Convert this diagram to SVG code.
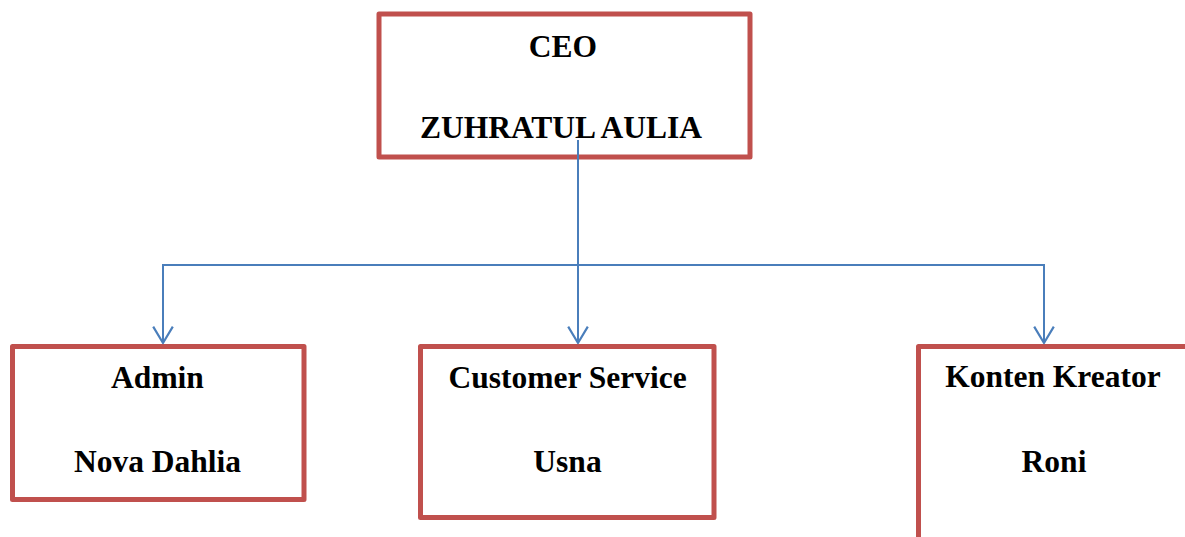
<svg xmlns="http://www.w3.org/2000/svg" width="1185" height="537" viewBox="0 0 1185 537">
  <style>
    .box { fill: #ffffff; stroke: #C0504D; stroke-width: 5; stroke-linejoin: round; }
    .lbl { font-family: "Liberation Serif", "Times New Roman", serif; font-weight: bold; font-size: 31.5px; fill: #000000; text-anchor: middle; }
    .conn { fill: none; stroke: #4A7EBB; stroke-width: 2; }
  </style>
  <defs>
    <marker id="vee" markerUnits="userSpaceOnUse" markerWidth="20" markerHeight="24" viewBox="-16 -11 18 22" refX="0" refY="0" orient="auto">
      <path d="M -15 -9 L 0 0 L -15 9" fill="none" stroke="#4A7EBB" stroke-width="2" stroke-linejoin="round"/>
    </marker>
  </defs>

  <rect width="1185" height="537" fill="#ffffff"/>

  <!-- organisation boxes -->
  <g id="ceo">
    <rect class="box" x="379" y="14" width="371" height="143"/>
    <text class="lbl" x="563" y="57">CEO</text>
    <text class="lbl" x="561" y="138">ZUHRATUL AULIA</text>
  </g>

  <g id="admin">
    <rect class="box" x="12.5" y="346.5" width="291.5" height="153"/>
    <text class="lbl" x="157.5" y="388">Admin</text>
    <text class="lbl" x="157.5" y="472">Nova Dahlia</text>
  </g>

  <g id="customer-service">
    <rect class="box" x="420.5" y="346.5" width="293.5" height="171"/>
    <text class="lbl" x="567.5" y="388">Customer Service</text>
    <text class="lbl" x="567.5" y="472">Usna</text>
  </g>

  <g id="konten-kreator">
    <rect class="box" x="918.5" y="346.5" width="300" height="260"/>
    <text class="lbl" x="1053" y="387">Konten Kreator</text>
    <text class="lbl" x="1054" y="472">Roni</text>
  </g>

  <!-- reporting lines -->
  <g id="connectors">
    <path class="conn" d="M 578 140 L 578 343" marker-end="url(#vee)"/>
    <path class="conn" d="M 578 265 L 163 265 L 163 343" marker-end="url(#vee)"/>
    <path class="conn" d="M 578 265 L 1044 265 L 1044 343" marker-end="url(#vee)"/>
  </g>
</svg>
